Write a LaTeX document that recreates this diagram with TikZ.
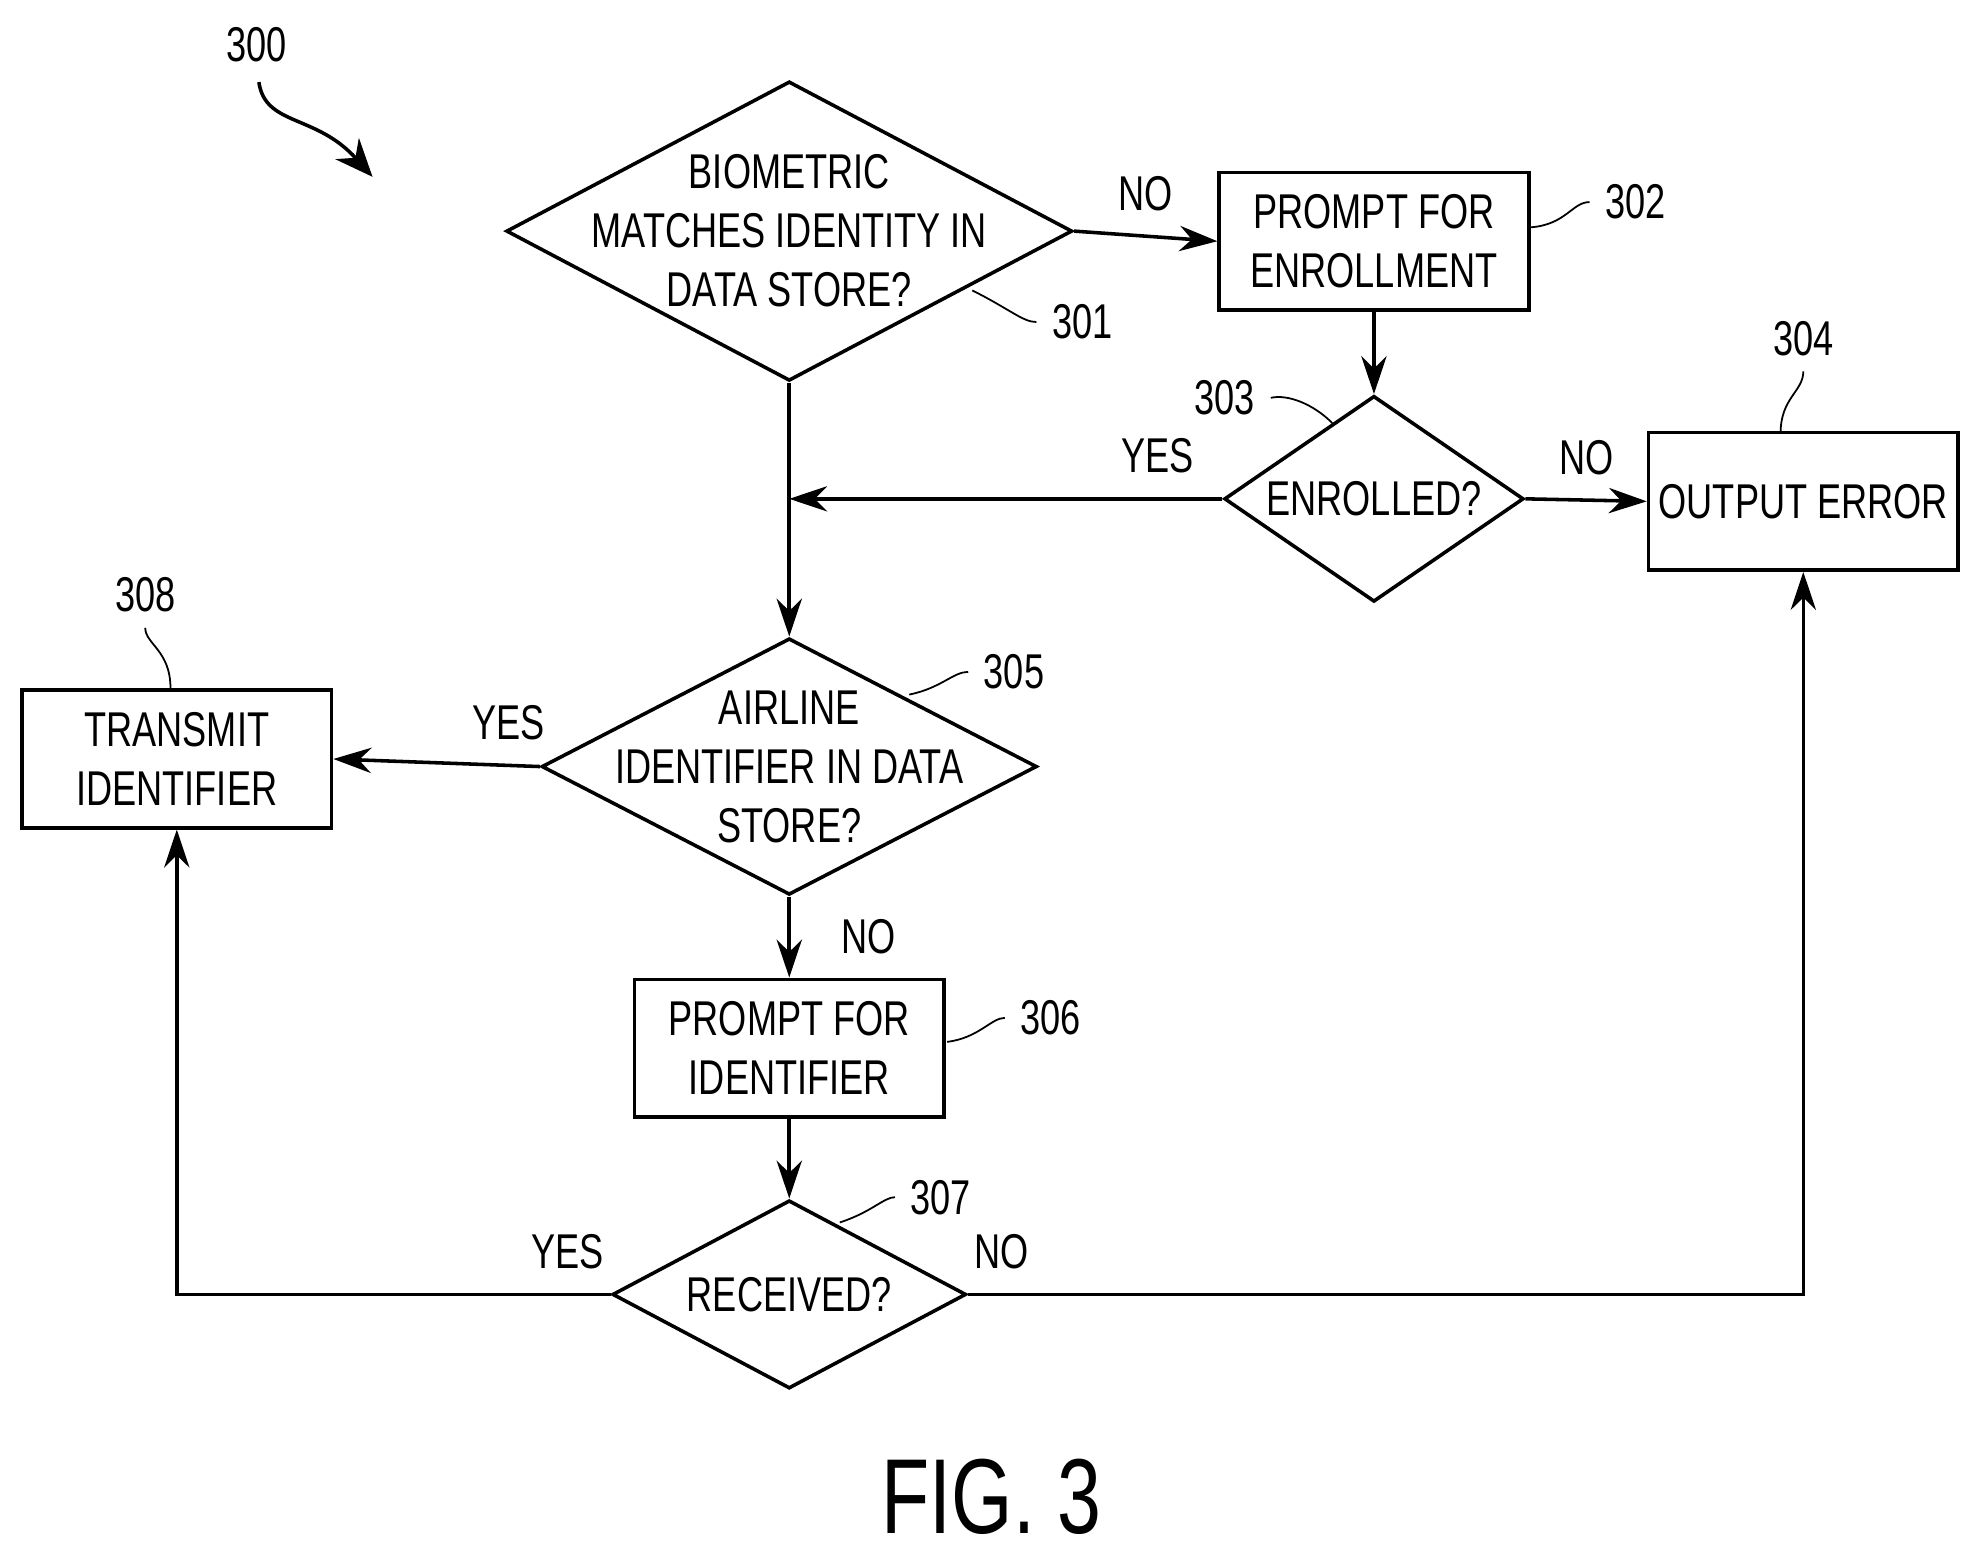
\documentclass[tikz,border=0pt]{standalone}
\usepackage{fontspec}
\setmainfont{Liberation Sans}[FakeStretch=0.74]
\usetikzlibrary{shapes.geometric,arrows.meta}

\begin{document}
\begin{tikzpicture}[x=0.01cm,y=-0.01cm,
    box/.style={draw, thick, minimum width=2.45cm, minimum height=1.09cm, inner sep=1pt, align=center, font=\fontsize{11}{13.3}\selectfont},
    dia/.style={draw, thick, diamond, inner sep=0pt},
    txt/.style={align=center, font=\fontsize{11}{13.3}\selectfont},
    lab/.style={font=\fontsize{11}{13}\selectfont},
    lead/.style={thin},
    arr/.style={thick, -{Stealth[length=3mm,width=2mm]}}
]
\useasboundingbox (0,0) rectangle (1560,1232);

% decisions
\node[dia, minimum width=4.48cm, minimum height=2.37cm] (d301) at (625,183) {};
\node[txt] at (d301) {BIOMETRIC\\MATCHES IDENTITY IN\\DATA STORE?};
\node[dia, minimum width=2.37cm, minimum height=1.63cm] (d303) at (1088,395) {};
\node[txt] at (d303) {ENROLLED?};
\node[dia, minimum width=3.92cm, minimum height=2.03cm] (d305) at (625,607) {};
\node[txt] at (d305) {AIRLINE\\IDENTIFIER IN DATA\\STORE?};
\node[dia, minimum width=2.80cm, minimum height=1.49cm] (d307) at (625,1025) {};
\node[txt] at (d307) {RECEIVED?};

% boxes
\node[box] (b302) at (1088,191) {PROMPT FOR\\ENROLLMENT};
\node[box] (b304) at (1428,397) {OUTPUT ERROR};
\node[box] (b306) at (625,830) {PROMPT FOR\\IDENTIFIER};
\node[box] (b308) at (140,601) {TRANSMIT\\IDENTIFIER};

\coordinate (j1) at (625,395);
\coordinate (c308) at (140,1025);
\coordinate (c304) at (1428,1025);

% connectors
\draw[arr] (d301.east) -- node[lab, above=2pt] {NO} (b302.west);
\draw[arr] (b302) -- (d303.north);
\draw[arr] (d303.west) -- node[lab, above=2pt, pos=0.15] {YES} (j1);
\draw[arr] (d301.south) -- (d305.north);
\draw[arr] (d303.east) -- node[lab, above=2pt] {NO} (b304.west);
\draw[arr] (d305.west) -- node[lab, above=2pt, pos=0.15] {YES} (b308.east);
\draw[arr] (d305.south) -- node[lab, right=8pt] {NO} (b306.north);
\draw[arr] (b306) -- (d307.north);
\draw[arr] (d307.west) -- node[lab, above=2pt, pos=0.1] {YES} (c308) -- (b308.south);
\draw[arr] (d307.east) -- node[lab, above=2pt, pos=0.04] {NO} (c304) -- (b304.south);

% reference numerals
\node[lab] (n300) at (203,35) {300};
\coordinate (t300) at (295,140);
\draw[thick, -{Stealth[length=3mm,width=2.5mm]}] (205,65) .. controls (210,100) and (250,90) .. (t300);
\node[lab] (n301) at (857,255) {301};
\draw[lead] (770,230) .. controls (800,245) and (810,255) .. (n301.west);
\node[lab] (n302) at (1295,160) {302};
\draw[lead] (1212,180) .. controls (1240,178) and (1245,160) .. (n302.west);
\node[lab] (n303) at (970,315) {303};
\draw[lead] (n303.east) .. controls (1020,312) and (1040,320) .. (1055,335);
\node[lab] (n304) at (1428,268) {304};
\draw[lead] (n304.south) .. controls (1428,310) and (1410,315) .. (1410,343);
\node[lab] (n305) at (803,532) {305};
\draw[lead] (720,550) .. controls (745,545) and (755,532) .. (n305.west);
\node[lab] (n306) at (832,806) {306};
\draw[lead] (750,825) .. controls (775,822) and (785,806) .. (n306.west);
\node[lab] (n307) at (745,948) {307};
\draw[lead] (665,968) .. controls (690,960) and (700,948) .. (n307.west);
\node[lab] (n308) at (115,471) {308};
\draw[lead] (n308.south) .. controls (115,510) and (135,515) .. (135,545);

\node[font=\fontsize{24}{28}\selectfont] (fig) at (785,1185) {FIG. 3};
\end{tikzpicture}
\end{document}
